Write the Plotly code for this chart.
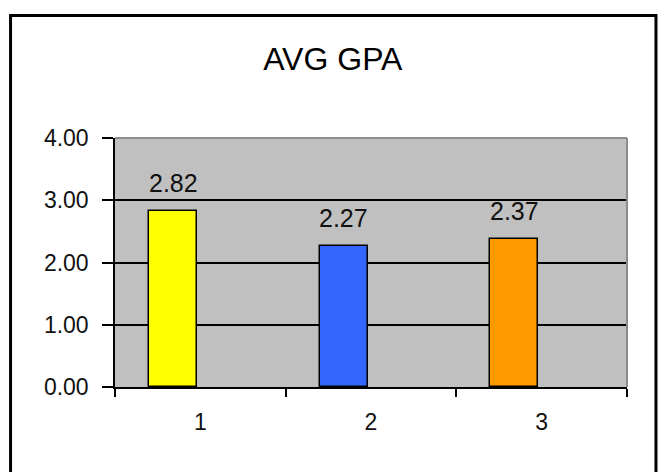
import plotly.graph_objects as go

# Chart data
categories = ["1", "2", "3"]
avg_gpa = [2.82, 2.27, 2.37]
bar_colors = ["#FFFF00", "#3366FF", "#FF9900"]
y_ticks = [0, 1, 2, 3, 4]

FONT = "Arial, Liberation Sans, sans-serif"

BAR_WIDTH = 0.28
BAR_OFFSET = -0.30

fig = go.Figure()
fig.add_trace(go.Bar(
    x=categories,
    y=avg_gpa,
    width=BAR_WIDTH,
    offset=BAR_OFFSET,
    marker=dict(color=bar_colors, line=dict(color="black", width=1.5)),
    hoverinfo="skip",
))

# value labels above each bar
for i, v in enumerate(avg_gpa):
    fig.add_annotation(
        x=i + BAR_OFFSET + BAR_WIDTH / 2, y=v, xref="x", yref="y",
        text=f"{v:.2f}", showarrow=False, yanchor="bottom", yshift=12,
        font=dict(family=FONT, size=25, color="#111111"),
    )

# grey plot-area border on top and right
fig.add_shape(type="line", xref="paper", yref="paper", x0=0, x1=1, y0=1, y1=1,
              line=dict(color="#8C8C8C", width=2), layer="above")
fig.add_shape(type="line", xref="paper", yref="paper", x0=1, x1=1, y0=0, y1=1,
              line=dict(color="#8C8C8C", width=2), layer="above")

# outer chart frame
fig.add_shape(type="rect", xref="paper", yref="paper",
              x0=-0.204, x1=1.0566, y0=-0.6, y1=1.492,
              line=dict(color="black", width=3), fillcolor="rgba(0,0,0,0)")

fig.update_layout(
    width=659, height=472,
    margin=dict(l=115, r=32, t=138, b=85),
    paper_bgcolor="white",
    plot_bgcolor="#C0C0C0",
    showlegend=False,
    bargap=0,
    title=dict(text="AVG GPA", x=0.505, xref="container", y=0.876, yref="container",
               xanchor="center", yanchor="middle",
               font=dict(family=FONT, size=32, color="black")),
    font=dict(family=FONT, size=23, color="#111111"),
)

fig.update_xaxes(
    type="category",
    showline=True, linecolor="black", linewidth=1.5,
    ticks="outside", ticklen=8, tickwidth=1.5, tickcolor="black",
    tickson="boundaries",
    showgrid=False,
    ticklabelstandoff=14,
    tickfont=dict(family=FONT, size=23, color="#111111"),
)
fig.update_yaxes(
    range=[0, 4],
    tickvals=y_ticks,
    tickformat=".2f",
    showline=True, linecolor="black", linewidth=1.5,
    ticks="outside", ticklen=11, tickwidth=1.5, tickcolor="black",
    showgrid=True, gridcolor="black", gridwidth=1.5,
    zeroline=False,
    ticklabelstandoff=9,
    tickfont=dict(family=FONT, size=23, color="#111111"),
)

fig.write_html("out.html")
